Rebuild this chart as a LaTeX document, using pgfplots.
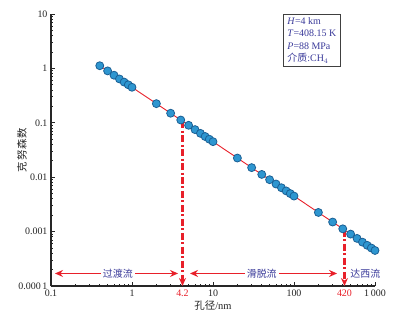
\documentclass[border=0pt]{standalone}
\usepackage{fontspec}
\setmainfont{Liberation Serif}
\newfontfamily\cjk{Noto Sans CJK SC}
\usepackage{pgfplots}
\pgfplotsset{compat=1.18}
\usetikzlibrary{arrows.meta}
\definecolor{mkfill}{HTML}{2E96D0}
\definecolor{mkdraw}{HTML}{1A5F94}
\definecolor{flowred}{HTML}{E8202A}
\definecolor{txtblue}{HTML}{3A3A9A}
\begin{document}
\begin{tikzpicture}
\begin{axis}[
  xmode=log, ymode=log,
  scale only axis, width=324bp, height=272bp,
  xmin=0.1, xmax=1000, ymin=1e-4, ymax=10,
  axis lines=left, axis line style={-, black!85, line width=1.1pt},
  clip=false,
  tick align=inside,
  tick style={black!85, line width=0.8pt},
  major tick length=4bp, minor tick length=2.5bp,
  xtick={0.1,1,10,100,1000},
  xticklabels={0.1,1,10,100,1\,000},
  minor xtick={0.2,0.3,0.4,0.5,0.6,0.7,0.8,0.9,2,3,4,5,6,7,8,9,20,30,40,50,60,70,80,90,200,300,400,500,600,700,800,900},
  ytick={1e-4,1e-3,1e-2,1e-1,1,10},
  yticklabels={0.000\,1,0.001,0.01,0.1,1,10},
  minor ytick={2e-4,3e-4,4e-4,5e-4,6e-4,7e-4,8e-4,9e-4,2e-3,3e-3,4e-3,5e-3,6e-3,7e-3,8e-3,9e-3,2e-2,3e-2,4e-2,5e-2,6e-2,7e-2,8e-2,9e-2,0.2,0.3,0.4,0.5,0.6,0.7,0.8,0.9,2,3,4,5,6,7,8,9},
  extra x ticks={4.2,420},
  extra x tick labels={4.2,420},
  extra x tick style={major tick length=0pt, ticklabel style={text=flowred}},
  ticklabel style={font=\fontsize{10}{11}\selectfont, text=black!85},
]
% bounding box
\path (rel axis cs:0,0) ++(-51bp,-39bp) rectangle ++(394bp,325bp);

\addplot[flowred, line width=0.9pt, mark=*, mark size=4pt,
  mark options={fill=mkfill, draw=mkdraw, line width=0.8pt}]
coordinates {
(0.4,1.12) (0.5,0.9) (0.6,0.75) (0.7,0.64) (0.8,0.56) (0.9,0.5) (1,0.45)
(2,0.225) (3,0.15) (4,0.1125) (5,0.09) (6,0.075) (7,0.064) (8,0.056) (9,0.05) (10,0.045)
(20,0.0225) (30,0.015) (40,0.01125) (50,0.009) (60,0.0075) (70,0.0064) (80,0.0056) (90,0.005) (100,0.0045)
(200,0.00225) (300,0.0015) (400,0.001125) (500,0.0009) (600,0.00075) (700,0.00064) (800,0.00056) (900,0.0005) (1000,0.00045)
};

% vertical dash-dot arrows
\draw[flowred, line width=2.2pt, dash pattern=on 7pt off 2.5pt on 2pt off 2.5pt, -{Stealth[length=8bp,width=7bp]}]
  (axis cs:4.2,0.107) -- (axis cs:4.2,1e-4);
\draw[flowred, line width=2.2pt, dash pattern=on 7pt off 2.5pt on 2pt off 2.5pt, -{Stealth[length=8bp,width=7bp]}]
  (axis cs:420,0.00107) -- (axis cs:420,1e-4);

% horizontal arrows
\draw[flowred, line width=1.8pt, {Stealth[length=8bp,width=7bp]}-{Stealth[length=8bp,width=7bp]}]
  (axis cs:0.112,1.7e-4) -- (axis cs:3.7,1.7e-4);
\draw[flowred, line width=1.8pt, {Stealth[length=8bp,width=7bp]}-{Stealth[length=8bp,width=7bp]}]
  (axis cs:5.2,1.7e-4) -- (axis cs:340,1.7e-4);
\node[fill=white, inner sep=2pt, text=txtblue, font=\cjk\fontsize{10}{11}\selectfont] at (axis cs:0.67,1.7e-4) {过渡流};
\node[fill=white, inner sep=2pt, text=txtblue, font=\cjk\fontsize{10}{11}\selectfont] at (axis cs:40,1.7e-4) {滑脱流};
\node[inner sep=1pt, text=txtblue, font=\cjk\fontsize{10}{11}\selectfont] at (axis cs:760,1.7e-4) {达西流};

% info box
\node[anchor=north west, draw=black!75, line width=0.9pt, fill=white, text=txtblue,
  align=left, inner xsep=4pt, inner ysep=3pt, font=\fontsize{10}{12.5}\selectfont]
  at (rel axis cs:0.716,1.0)
  {\textit{H}=4 km\\ \textit{T}=408.15 K\\ \textit{P}=88 MPa\\ {\cjk 介质}:CH$_4$};

% axis labels
\node[rotate=90, text=black!85, font=\cjk\fontsize{10.5}{11}\selectfont] at ([xshift=-29bp]rel axis cs:0,0.5) {克\hspace{1pt}努\hspace{1pt}森\hspace{1pt}数};
\node[text=black!85, font=\fontsize{10.5}{11}\selectfont] at ([yshift=-20bp]rel axis cs:0.5,0) {{\cjk 孔径}/nm};
\end{axis}
\end{tikzpicture}
\end{document}
